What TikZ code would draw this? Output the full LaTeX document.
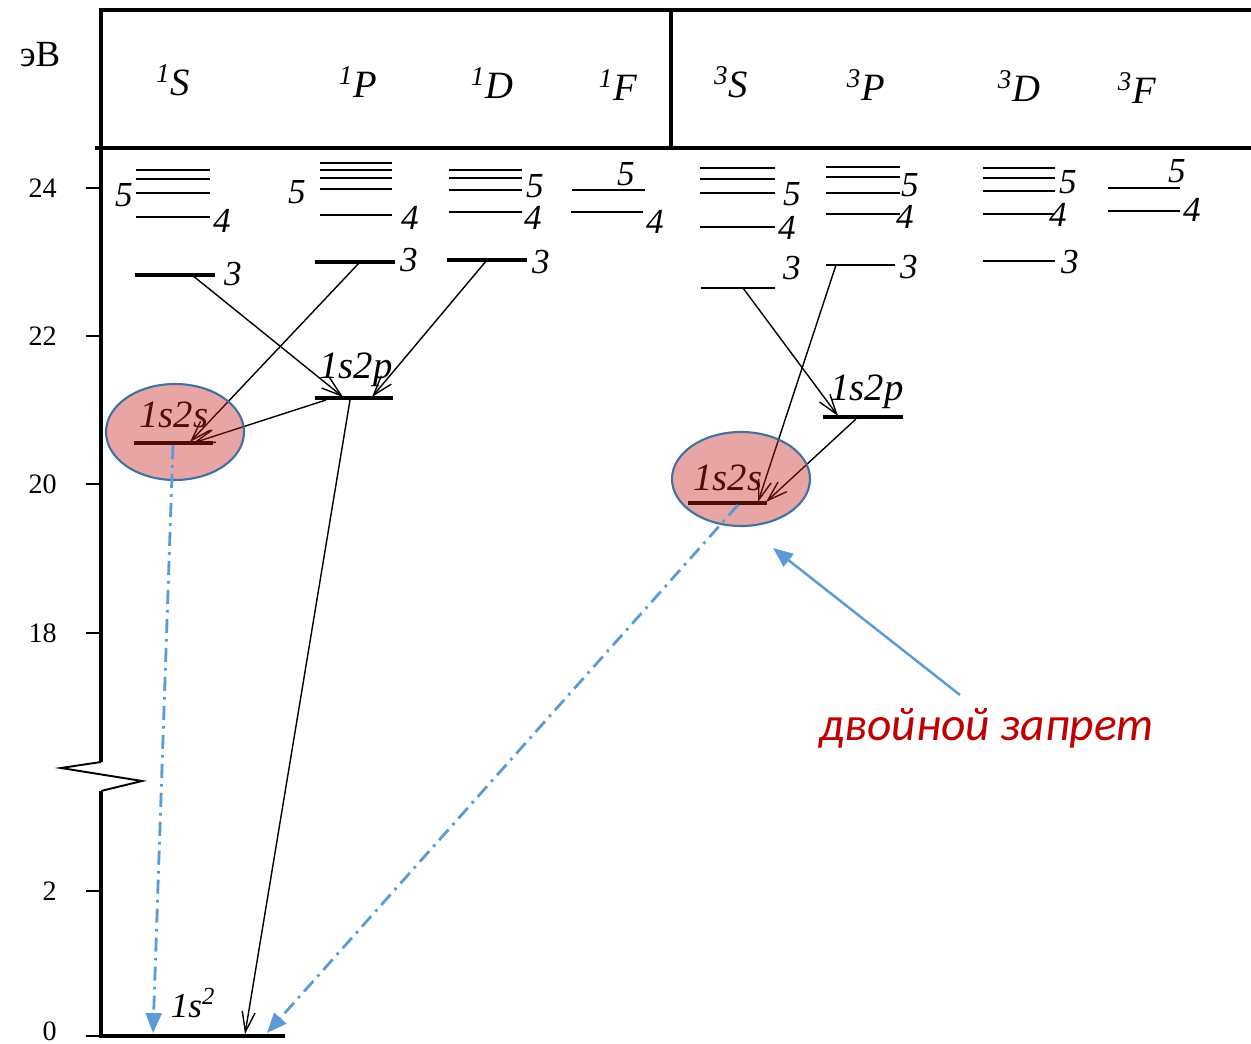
\documentclass[tikz,border=0pt]{standalone}
\usepackage{fontspec}
\setmainfont{Liberation Serif}
\newfontfamily\carlito{Carlito}
\usetikzlibrary{arrows.meta}
\definecolor{skyb}{HTML}{5B9BD5}
\definecolor{rimb}{HTML}{41719C}
\definecolor{pinkr}{RGB}{198,30,30}
\definecolor{darkr}{HTML}{C00000}

\begin{document}
\begin{tikzpicture}[x=0.2mm, y=-0.2mm,
  lvl/.style={line width=1.1pt},
  lvlb/.style={line width=2.6pt},
  num/.style={font=\fontsize{20}{20}\selectfont\itshape, inner sep=0pt},
  term/.style={font=\fontsize{22}{22}\selectfont\itshape, inner sep=0pt},
  trans/.style={line width=0.8pt, -{Straight Barb[length=4mm,width=2.6mm]}},
  forbid/.style={line width=1.6pt, skyb, dash pattern=on 8pt off 3.5pt on 1.5pt off 3.5pt,
    -{Triangle[length=4mm,width=3.2mm]}},
  blob/.style={draw=rimb, line width=1.2pt, fill=pinkr, fill opacity=0.4, draw opacity=1}]
  \useasboundingbox (0,0) rectangle (1251,1044);
  % шапка таблицы
  \draw[line width=2.3pt] (101,10) -- (1251,10);
  \draw[line width=2.3pt] (95,148) -- (1251,148);
  \draw[line width=2.3pt] (671,10) -- (671,148);
  \node[font=\fontsize{21}{21}\selectfont] (ev) at (40,55) {эВ};
  \node[term] (h1S) at (173,80) {\textsuperscript{1}S};
  \node[term] (h1P) at (358,82) {\textsuperscript{1}P};
  \node[term] (h1D) at (492,83) {\textsuperscript{1}D};
  \node[term] (h1F) at (618,85) {\textsuperscript{1}F};
  \node[term] (h3S) at (731,82) {\textsuperscript{3}S};
  \node[term] (h3P) at (866,85) {\textsuperscript{3}P};
  \node[term] (h3D) at (1019,86) {\textsuperscript{3}D};
  \node[term] (h3F) at (1137,88) {\textsuperscript{3}F};
  % ось энергии с разрывом
  \draw[line width=2.8pt] (101,8) -- (101,762);
  \draw[line width=1.1pt] (101,762) -- (61,768) -- (142,781) -- (101,791);
  \draw[line width=2.8pt] (101,791) -- (101,1036) -- (285,1036);
  \foreach \v/\y in {24/188,22/336,20/484,18/633,2/891} {
    \draw[line width=1.4pt] (86,\y) -- (101,\y);
    \node[font=\fontsize{16}{16}\selectfont, anchor=east] (t\v) at (63,\y) {\v};
  }
  \draw[line width=1.4pt] (86,1036) -- (101,1036);
  \node[font=\fontsize{16}{16}\selectfont, anchor=east] (t0) at (63,1031) {0};
  % синглеты
  \foreach \y in {170,179,193,217} \draw[lvl] (136,\y) -- (210,\y);
  \coordinate (sS3) at (192,275);
  \draw[lvlb] (135,275) -- (215,275);
  \node[num] (n1) at (124,195) {5};
  \node[num] (n2) at (222,221) {4};
  \node[num] (n3) at (233,274) {3};
  \foreach \y in {163,170,178,189,215} \draw[lvl] (320,\y) -- (392,\y);
  \coordinate (sP3) at (360,262);
  \draw[lvlb] (315,262) -- (395,262);
  \node[num] (n4) at (297,192) {5};
  \node[num] (n5) at (410,218) {4};
  \node[num] (n6) at (409,260) {3};
  \foreach \y in {170,178,190,212} \draw[lvl] (449,\y) -- (522,\y);
  \coordinate (sD3) at (487,260);
  \draw[lvlb] (447,260) -- (527,260);
  \node[num] (n7) at (535,186) {5};
  \node[num] (n8) at (533,218) {4};
  \node[num] (n9) at (541,262) {3};
  \draw[lvl] (572,190) -- (645,190);
  \draw[line width=1.6pt] (571,212) -- (643,212);
  \node[num] (n10) at (626,174) {5};
  \node[num] (n11) at (655,222) {4};
  % 1s2p, 1s2s (синглеты)
  \draw[lvlb] (315,398) -- (393,398);
  \node[term] (s2p) at (356,370) {1s2p};
  \coordinate (sPa) at (343,397);
  \coordinate (sPb) at (372,397);
  \coordinate (sPc) at (326,400);
  \coordinate (sPd) at (350,400);
  \draw[lvlb] (134,443) -- (213,443);
  \node[term] (s2s) at (174,415) {1s2s};
  \coordinate (sSa) at (190,442);
  \coordinate (sSb) at (193,443);
  \coordinate (sSc) at (173,445);
  % триплеты
  \foreach \y in {168,179,193,227} \draw[lvl] (700,\y) -- (775,\y);
  \coordinate (tS3) at (743,288);
  \draw[lvl] (701,288) -- (775,288);
  \node[num] (n12) at (792,194) {5};
  \node[num] (n13) at (787,228) {4};
  \node[num] (n14) at (792,268) {3};
  \foreach \y in {167,177,193,214} \draw[lvl] (826,\y) -- (900,\y);
  \coordinate (tP3) at (836,265);
  \draw[lvl] (826,265) -- (895,265);
  \node[num] (n15) at (910,185) {5};
  \node[num] (n16) at (905,217) {4};
  \node[num] (n17) at (909,267) {3};
  \foreach \y in {168,178,191,214} \draw[lvl] (983,\y) -- (1055,\y);
  \draw[lvl] (983,261) -- (1055,261);
  \node[num] (n18) at (1068,182) {5};
  \node[num] (n19) at (1058,215) {4};
  \node[num] (n20) at (1070,262) {3};
  \draw[lvl] (1108,188) -- (1180,188);
  \draw[lvl] (1108,211) -- (1180,211);
  \node[num] (n21) at (1177,171) {5};
  \node[num] (n22) at (1192,210) {4};
  % 1s2p, 1s2s (триплеты)
  \draw[lvlb] (823,417) -- (903,417);
  \node[term] (t2p) at (867,392) {1s2p};
  \coordinate (tPa) at (838,416);
  \coordinate (tPb) at (856,419);
  \draw[lvlb] (688,503) -- (767,503);
  \node[term] (t2s) at (728,478) {1s2s};
  \coordinate (tSa) at (758,502);
  \coordinate (tSb) at (766,502);
  \coordinate (tSc) at (738,505);
  % основное состояние
  \node[font=\fontsize{20}{20}\selectfont\itshape] (g) at (193,1003) {1s\textsuperscript{2}};
  \coordinate (gA) at (153,1033);
  \coordinate (gB) at (245,1034);
  \coordinate (gC) at (267,1033);
  % переходы
  \draw[trans] (sS3) -- (sPa);
  \draw[trans] (sP3) -- (sSa);
  \draw[trans] (sD3) -- (sPb);
  \draw[trans] (sPc) -- (sSb);
  \draw[trans] (sPd) -- (gB);
  \draw[trans] (tS3) -- (tPa);
  \draw[trans] (tP3) -- (tSa);
  \draw[trans] (tPb) -- (tSb);
  % метастабильные уровни
  \draw[blob] (175,432) ellipse [x radius=69, y radius=48];
  \draw[blob] (741,479) ellipse [x radius=69, y radius=47];
  \draw[forbid] (sSc) -- (gA);
  \draw[forbid] (tSc) -- (gC);
  \node[font=\carlito\fontsize{27}{27}\selectfont\itshape, text=darkr] (zap) at (987,728) {двойной запрет};
  \coordinate (zapA) at (960,695);
  \coordinate (zapB) at (773,548);
  \draw[skyb, line width=1.4pt, -{Triangle[length=4mm,width=3.2mm]}] (zapA) -- (zapB);
\end{tikzpicture}
\end{document}
